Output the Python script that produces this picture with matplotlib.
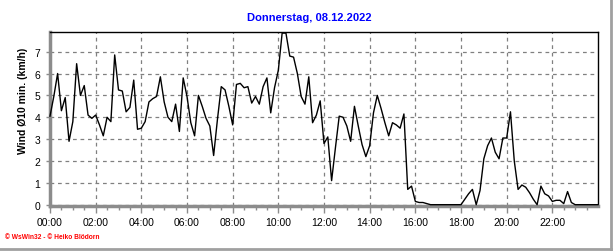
import matplotlib
matplotlib.use("Agg")
import matplotlib.pyplot as plt
import numpy as np
from matplotlib.lines import Line2D

plt.rcParams['font.family'] = ['Liberation Sans', 'DejaVu Sans']

title = "Donnerstag, 08.12.2022"
ylabel = "Wind Ø10 min. (km/h)"
footer = "© WsWin32 - © Heiko Blödorn"
xlabels = ["00:00", "02:00", "04:00", "06:00", "08:00", "10:00",
           "12:00", "14:00", "16:00", "18:00", "20:00", "22:00"]

# 10-minute averages, 00:00 .. 24:00
wind = [4.05, 4.95, 6.0, 4.3, 4.9, 2.9, 3.8, 6.45, 5.0, 5.45,
        4.1, 3.95, 4.1, 3.65, 3.15, 4.0, 3.8, 6.85, 5.25, 5.2,
        4.25, 4.45, 5.7, 3.45, 3.5, 3.8, 4.7, 4.85, 4.95, 5.85,
        4.7, 4.0, 3.8, 4.6, 3.35, 5.8, 4.95, 3.75, 3.15, 5.0,
        4.5, 3.95, 3.6, 2.25, 3.9, 5.4, 5.25, 4.5, 3.65, 5.5,
        5.55, 5.35, 5.4, 4.65, 4.95, 4.6, 5.4, 5.8, 4.2, 5.35,
        6.15, 7.85, 7.85, 6.8, 6.75, 6.0, 4.95, 4.6, 5.85, 3.75,
        4.1, 4.75, 2.8, 3.1, 1.1, 2.6, 4.05, 4.0, 3.6, 2.9,
        4.5, 3.6, 2.75, 2.2, 2.7, 4.2, 5.0, 4.4, 3.75, 3.15,
        3.75, 3.65, 3.5, 4.15, 0.7, 0.85, 0.15, 0.1, 0.1, 0.05,
        0.0, 0.0, 0.0, 0.0, 0.0, 0.0, 0.0, 0.0, 0.0, 0.25,
        0.5, 0.7, 0.0, 0.65, 2.1, 2.7, 3.05, 2.4, 2.1, 3.05,
        3.05, 4.25, 2.0, 0.7, 0.9, 0.8, 0.55, 0.25, 0.0, 0.85,
        0.5, 0.4, 0.15, 0.2, 0.2, 0.05, 0.6, 0.1, 0.0, 0.0,
        0.0, 0.0, 0.0, 0.0, 0.0]
t = np.arange(len(wind)) * 10 / 60

fig = plt.figure(figsize=(6.16, 2.53), dpi=100)
ax = fig.add_axes([50/616, 46/253, 548/616, 174/253])

# draw on top of the thick gray axis so the zero stretches stay visible
ax.plot(t, wind, color='black', lw=1, zorder=3, clip_on=False)

ax.set_xlim(0, 24)
ax.set_ylim(-0.06, 7.9)
ax.set_xticks(np.arange(0, 24, 2))
ax.set_xticklabels(xlabels, fontsize=7.5)
ax.set_xticks(np.arange(0, 24, 0.5), minor=True)
ax.set_yticks(range(8))
ax.set_yticklabels([str(i) for i in range(8)], fontsize=7.5)

ax.grid(True, color='#808080', linestyle=(0, (3, 3)), lw=0.9)
ax.set_axisbelow(True)

gray = '#8c8c8c'
ax.spines['left'].set_color(gray)
ax.spines['left'].set_linewidth(2.5)
ax.spines['bottom'].set_color(gray)
ax.spines['bottom'].set_linewidth(2.5)
ax.spines['top'].set_linewidth(1)
ax.spines['right'].set_linewidth(1)

ax.tick_params(axis='x', which='major', length=5, width=1, color=gray, pad=3)
ax.tick_params(axis='x', which='minor', length=3, width=1, color=gray)
ax.tick_params(axis='y', length=3, width=1, color=gray, pad=4)

ax.set_ylabel(ylabel, fontsize=7.5, fontweight='bold')
ax.yaxis.set_label_coords(-0.04, 0.61)

fig.text(309/616, 1 - 18/253, title, color='#0000ff', fontsize=8,
         fontweight='bold', ha='center', va='center')
fig.text(5/616, 1 - 238/253, footer, color='red', fontsize=4.8,
         fontweight='bold', ha='left', va='center')

# window border at right and bottom
fig.add_artist(Line2D([611/616, 611/616], [3/253, 1], color='#a0a0a0', lw=2))
fig.add_artist(Line2D([0, 611/616], [3/253, 3/253], color='#a0a0a0', lw=2))

fig.savefig('out.png', dpi=100)
